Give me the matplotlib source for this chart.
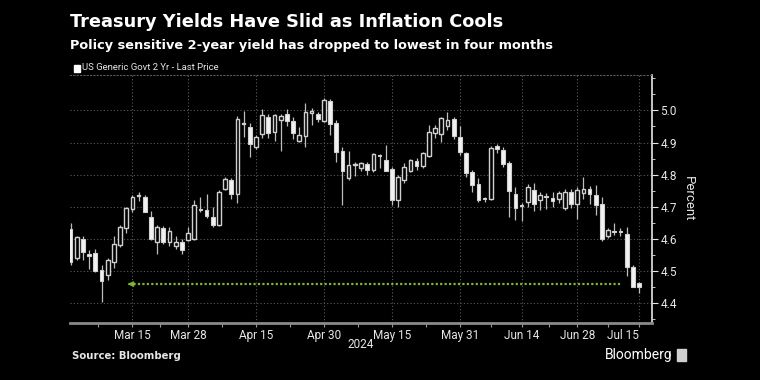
import matplotlib
matplotlib.use("Agg")
import matplotlib.pyplot as plt
import numpy as np
import pandas as pd

# daily OHLC of US 2y generic yield, 1 Mar - 15 Jul 2024
opens = [4.63, 4.54, 4.60, 4.552, 4.557, 4.505, 4.487, 4.53, 4.583, 4.633,
         4.694, 4.733, 4.73, 4.667, 4.59, 4.633, 4.59, 4.578, 4.59, 4.598,
         4.60, 4.692, 4.69, 4.667, 4.645, 4.755, 4.784, 4.74, 4.958, 4.947,
         4.887, 4.927, 4.98, 4.932, 4.97, 4.988, 4.968, 4.906, 4.921, 4.993,
         4.99, 4.968, 5.029, 4.96, 4.874, 4.789, 4.83, 4.822, 4.832, 4.815,
         4.859, 4.847, 4.818, 4.722, 4.784, 4.812, 4.843, 4.827, 4.858, 4.929,
         4.926, 4.952, 4.973, 4.918, 4.866, 4.809, 4.77, 4.726, 4.725, 4.89,
         4.877, 4.835, 4.74, 4.704, 4.716, 4.753, 4.72, 4.732, 4.728, 4.723,
         4.696, 4.747, 4.709, 4.742, 4.755, 4.738, 4.71, 4.61, 4.623, 4.622,
         4.615, 4.514, 4.464]
highs = [4.65, 4.61, 4.61, 4.567, 4.57, 4.52, 4.54, 4.61, 4.645, 4.70,
         4.738, 4.747, 4.737, 4.687, 4.643, 4.64, 4.636, 4.61, 4.60, 4.636,
         4.72, 4.73, 4.74, 4.70, 4.752, 4.794, 4.79, 4.983, 4.999, 4.96,
         4.925, 5.004, 4.99, 4.99, 4.99, 5.004, 4.978, 4.947, 5.022, 5.006,
         4.995, 5.039, 5.035, 4.97, 4.887, 4.874, 4.84, 4.84, 4.84, 4.866,
         4.865, 4.892, 4.825, 4.80, 4.835, 4.85, 4.853, 4.871, 4.954, 4.954,
         4.978, 4.996, 4.978, 4.95, 4.87, 4.815, 4.789, 4.73, 4.89, 4.894,
         4.885, 4.843, 4.763, 4.713, 4.77, 4.775, 4.745, 4.744, 4.745, 4.75,
         4.755, 4.755, 4.763, 4.794, 4.765, 4.768, 4.731, 4.633, 4.649, 4.633,
         4.638, 4.519, 4.467]
lows = [4.52, 4.535, 4.535, 4.507, 4.497, 4.405, 4.473, 4.51, 4.575, 4.62,
        4.683, 4.718, 4.683, 4.597, 4.555, 4.585, 4.577, 4.57, 4.553, 4.593,
        4.596, 4.684, 4.664, 4.636, 4.64, 4.753, 4.725, 4.711, 4.918, 4.856,
        4.88, 4.913, 4.913, 4.906, 4.874, 4.95, 4.91, 4.903, 4.887, 4.954,
        4.963, 4.963, 4.923, 4.84, 4.706, 4.784, 4.797, 4.81, 4.80, 4.807,
        4.822, 4.81, 4.706, 4.70, 4.773, 4.808, 4.815, 4.82, 4.855, 4.915,
        4.902, 4.94, 4.91, 4.861, 4.794, 4.747, 4.715, 4.714, 4.72, 4.866,
        4.825, 4.668, 4.66, 4.655, 4.70, 4.686, 4.69, 4.692, 4.70, 4.713,
        4.69, 4.696, 4.661, 4.723, 4.709, 4.675, 4.595, 4.602, 4.612, 4.608,
        4.485, 4.45, 4.433]
closes = [4.53, 4.605, 4.56, 4.548, 4.50, 4.47, 4.535, 4.585, 4.636, 4.695,
          4.73, 4.736, 4.685, 4.60, 4.638, 4.59, 4.626, 4.59, 4.567, 4.62,
          4.705, 4.689, 4.673, 4.645, 4.747, 4.786, 4.74, 4.973, 4.962, 4.895,
          4.918, 4.985, 4.93, 4.985, 4.983, 4.968, 4.93, 4.925, 4.994, 4.995,
          4.973, 5.032, 4.957, 4.871, 4.812, 4.83, 4.831, 4.835, 4.815, 4.863,
          4.858, 4.812, 4.72, 4.794, 4.825, 4.845, 4.827, 4.866, 4.934, 4.944,
          4.975, 4.97, 4.921, 4.87, 4.804, 4.768, 4.722, 4.724, 4.884, 4.88,
          4.833, 4.749, 4.696, 4.702, 4.763, 4.71, 4.737, 4.730, 4.719, 4.742,
          4.747, 4.709, 4.753, 4.755, 4.741, 4.706, 4.60, 4.628, 4.621, 4.621,
          4.512, 4.45, 4.452]

holidays = ["2024-03-29", "2024-05-27", "2024-06-19", "2024-07-04"]
dates = pd.bdate_range("2024-03-01", "2024-07-15", freq="C", holidays=holidays)

tick_dates = ["2024-03-15", "2024-03-28", "2024-04-15", "2024-04-30", "2024-05-15",
              "2024-05-31", "2024-06-14", "2024-06-28", "2024-07-15"]
tick_labels = ["Mar 15", "Mar 28", "Apr 15", "Apr 30", "May 15",
               "May 31", "Jun 14", "Jun 28", "Jul 15"]

low_level = 4.46  # lowest close marker line

bg = "black"
fg = "#e6e6e6"
grid_c = "#5a5a5a"
small_font = ["Roboto", "DejaVu Sans"]

fig = plt.figure(figsize=(7.6, 3.8), dpi=100, facecolor=bg)
ax = fig.add_axes([70 / 760, 1 - 323 / 380, 582 / 760, 248 / 380])
ax.set_facecolor(bg)

x = np.arange(len(dates))
o = np.array(opens)
c = np.array(closes)
h = np.array(highs)
l = np.array(lows)

# wicks
ax.vlines(x, l, h, color="#bdbdbd", linewidth=0.9, zorder=2)

# bodies: hollow when up, filled when down
up = c >= o
body_bot = np.minimum(o, c)
body_h = np.maximum(np.abs(c - o), 0.004)
ax.bar(x[up], body_h[up], bottom=body_bot[up], width=0.6,
       facecolor="black", edgecolor="#d0d0d0", linewidth=1.0, zorder=3)
ax.bar(x[~up], body_h[~up], bottom=body_bot[~up], width=0.6,
       facecolor="#f2f2f2", edgecolor="#d0d0d0", linewidth=0.8, zorder=3)

# dotted green line at the low, arrow pointing back to March
start_i = 8.8
end_i = 89
ax.plot([start_i + 0.6, end_i], [low_level, low_level], color="#7cb82f",
        linestyle=(0, (1, 1)), linewidth=1.6, zorder=4)
ax.annotate("", xy=(start_i, low_level), xytext=(start_i + 1.2, low_level),
            arrowprops=dict(arrowstyle="-|>", color="#7cb82f", lw=1.2,
                            mutation_scale=7), zorder=4)

# axes
ax.set_xlim(-0.1, 94.1)
ax.set_ylim(4.339, 5.11)

tick_idx = [dates.get_loc(pd.Timestamp(d)) for d in tick_dates]
ax.set_xticks(tick_idx)
ax.set_xticklabels(tick_labels)
mids = [tick_idx[0] - 5.5] + [(a + b) / 2 for a, b in zip(tick_idx[:-1], tick_idx[1:])]
ax.set_xticks(mids, minor=True)
for lab in ax.get_xticklabels() + ax.get_yticklabels():
    lab.set_fontfamily(small_font)
ax.get_xticklabels()[-1].set_horizontalalignment("right")
ax.get_xticklabels()[-1].set_x(tick_idx[-1] + 1.6)

yt = [4.4, 4.5, 4.6, 4.7, 4.8, 4.9, 5.0]
ax.set_yticks(yt)
ax.set_yticklabels([f"{v:.1f}" for v in yt], fontfamily=small_font)
ax.set_yticks(np.arange(4.35, 5.11, 0.05), minor=True)
ax.yaxis.tick_right()
ax.yaxis.set_label_position("right")
ax.set_ylabel("Percent", color=fg, fontsize=9.5, rotation=270, labelpad=13,
              fontfamily=small_font)

ax.tick_params(axis="x", colors="#9a9a9a", labelcolor=fg, labelsize=8.5,
               length=3, width=0.8, pad=1.5)
ax.tick_params(axis="x", which="minor", colors="#9a9a9a", length=3, width=0.8)
ax.tick_params(axis="y", colors=fg, labelcolor=fg, labelsize=8.5,
               length=4, width=0.8, pad=2)
ax.tick_params(axis="y", which="minor", colors=fg, length=2.5, width=0.6)

ax.grid(True, which="major", color=grid_c, linestyle=(0, (1, 2)), linewidth=0.8)

ax.spines["left"].set_visible(False)
ax.spines["top"].set_color(grid_c)
ax.spines["top"].set_linestyle((0, (1, 2)))
ax.spines["top"].set_linewidth(0.8)
ax.spines["right"].set_color(fg)
ax.spines["right"].set_linewidth(1.2)
ax.spines["bottom"].set_color("#8a8a8a")
ax.spines["bottom"].set_linewidth(2)

# texts
fig.text(70 / 760, 1 - 22 / 380, "Treasury Yields Have Slid as Inflation Cools",
         color="white", fontsize=12.8, fontweight="bold", va="center", ha="left")
fig.text(70 / 760, 1 - 46 / 380,
         "Policy sensitive 2-year yield has dropped to lowest in four months",
         color="white", fontsize=9.3, fontweight="bold", va="center", ha="left")
fig.patches.append(plt.Rectangle((74 / 760, 1 - 72 / 380), 6 / 760, 7 / 380,
                                 transform=fig.transFigure, color="white"))
fig.text(82 / 760, 1 - 68 / 380, "US Generic Govt 2 Yr - Last Price",
         color=fg, fontsize=6.8, va="center", ha="left", fontfamily=small_font)
fig.text(361 / 760, 1 - 345 / 380, "2024", color=fg, fontsize=8.5,
         va="center", ha="center", fontfamily=small_font)
fig.text(72 / 760, 1 - 356 / 380, "Source: Bloomberg", color=fg, fontsize=7.3,
         fontweight="bold", va="center", ha="left")
fig.text(673 / 760, 1 - 355 / 380, "Bloomberg", color="white", fontsize=10,
         va="center", ha="right", fontfamily=small_font)
fig.patches.append(plt.Rectangle((677 / 760, 1 - 361 / 380), 9 / 760, 12 / 380,
                                 transform=fig.transFigure, color="#d0d0d0"))

fig.savefig("out.png", dpi=100, facecolor=bg)
